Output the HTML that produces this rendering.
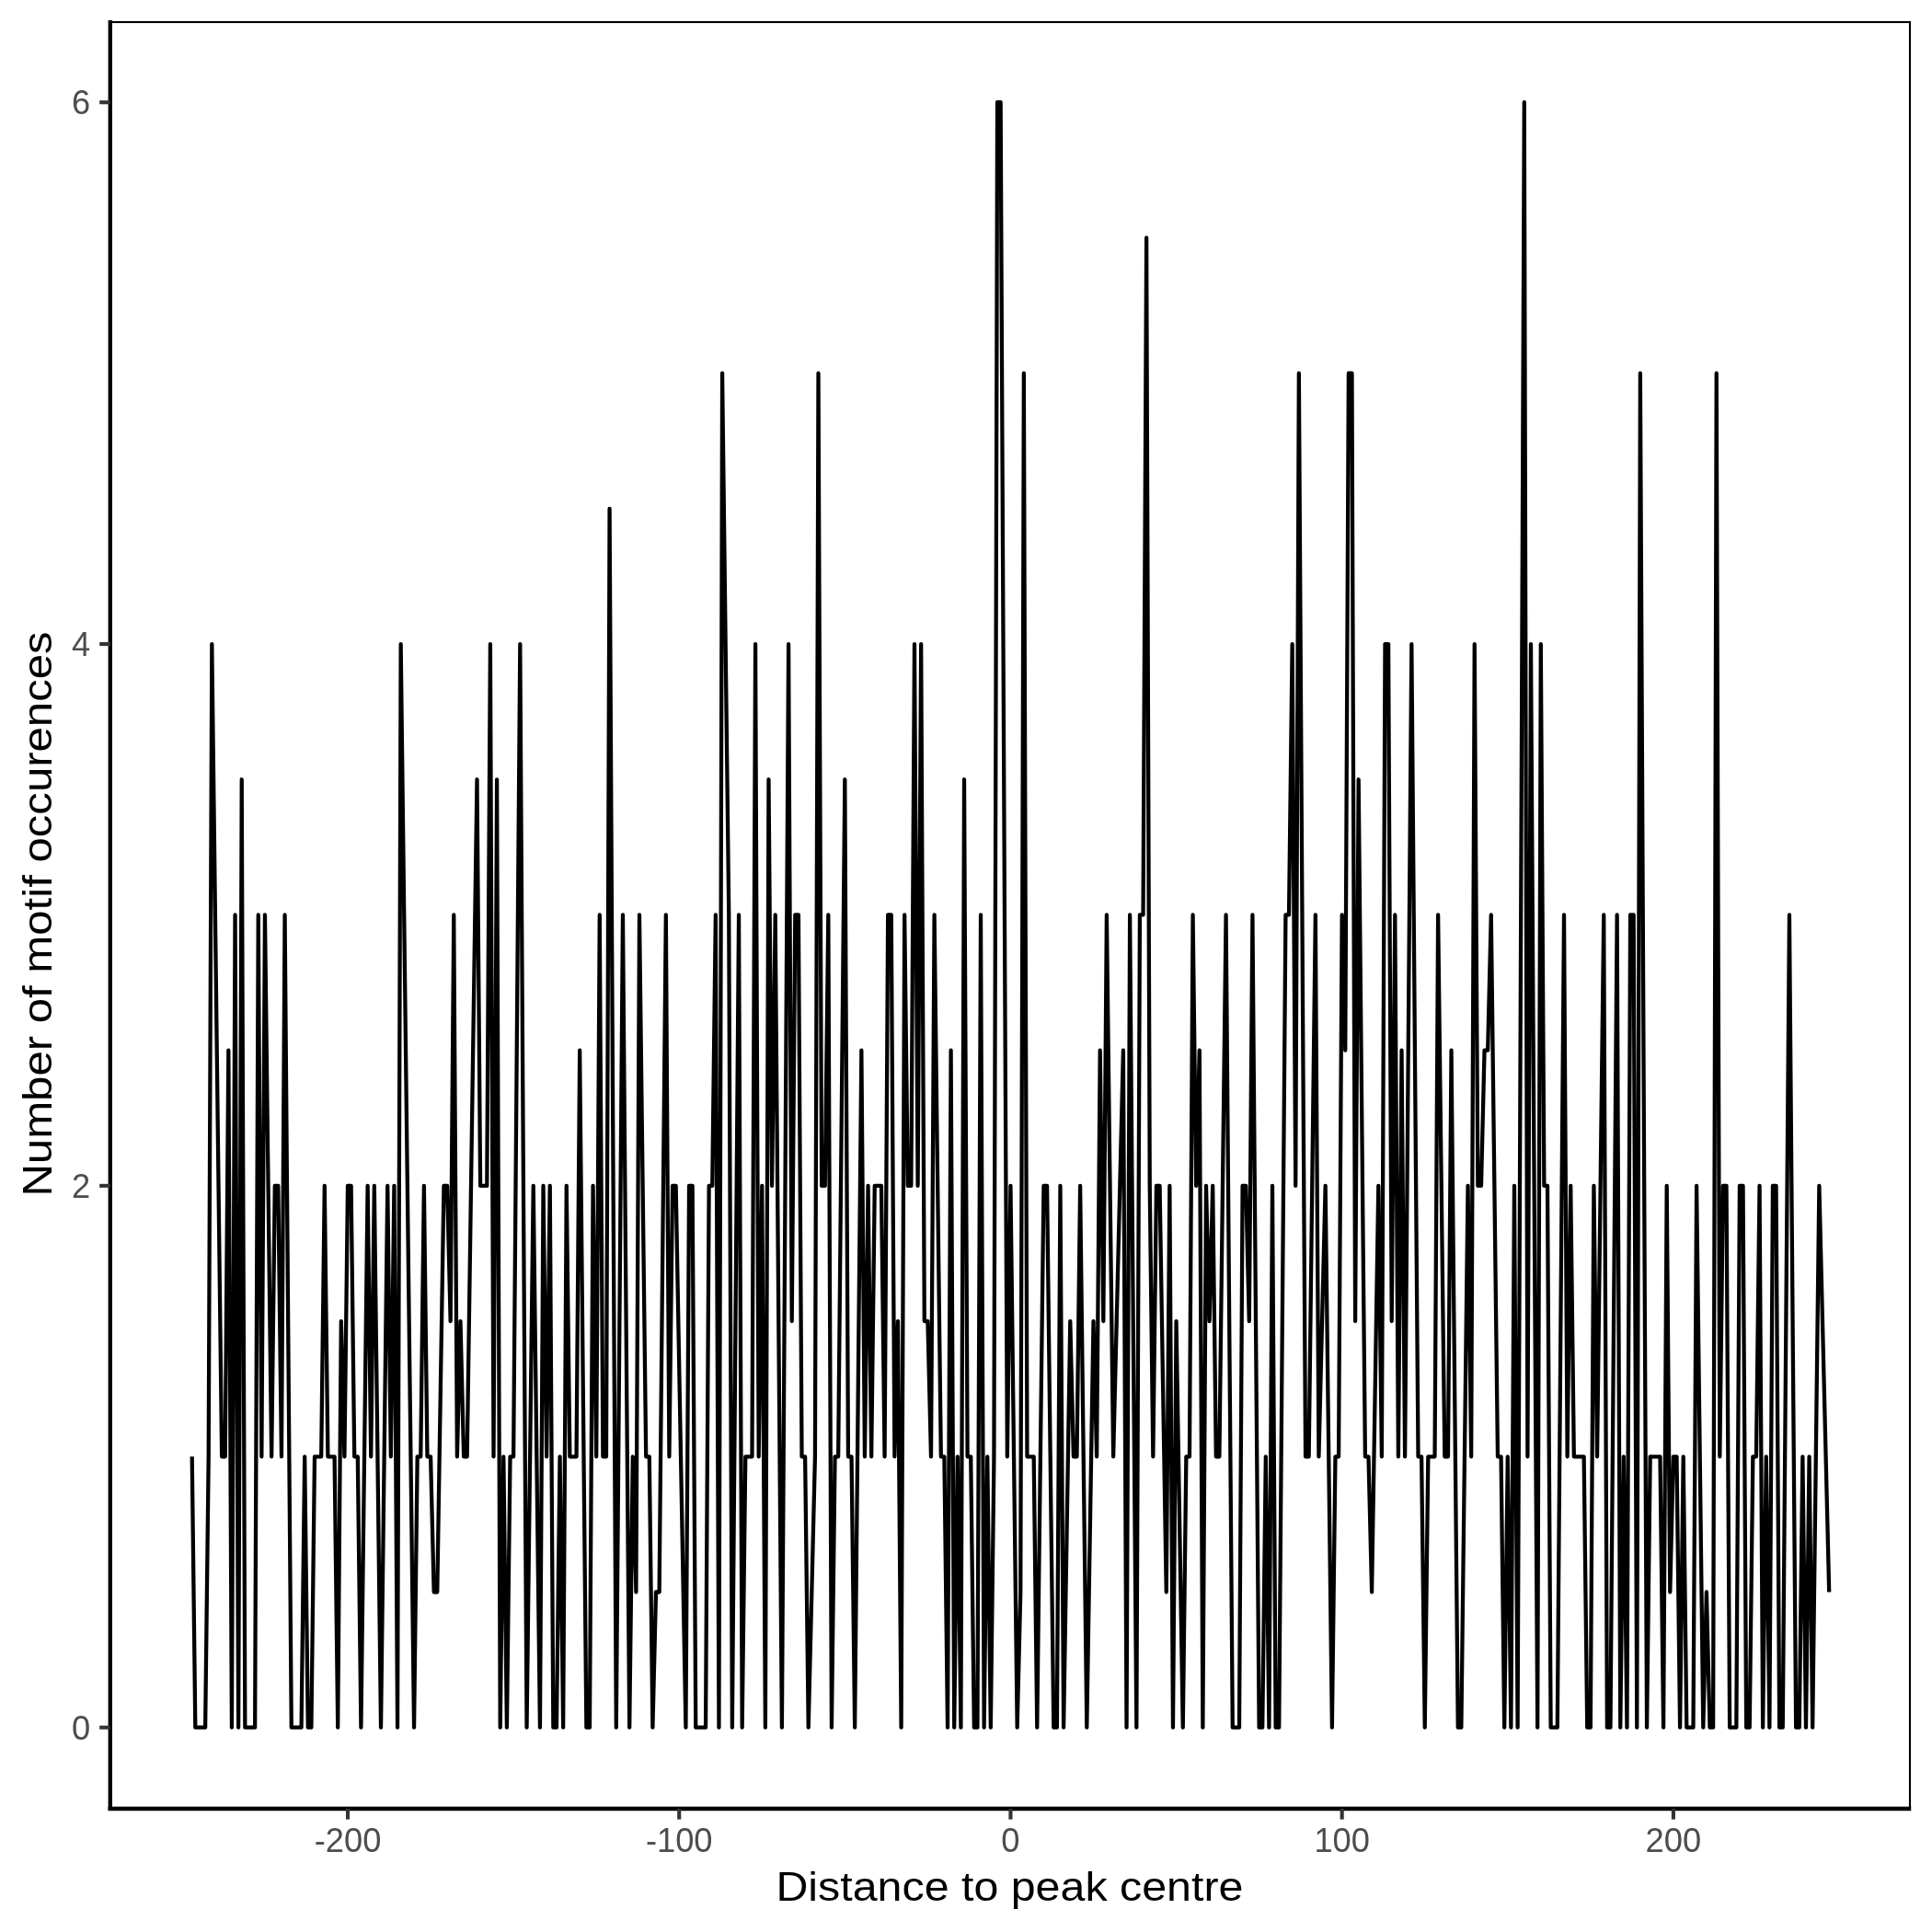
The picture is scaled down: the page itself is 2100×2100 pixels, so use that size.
<!DOCTYPE html>
<html><head><meta charset="utf-8"><style>
html,body{margin:0;padding:0;background:#fff;}
svg{display:block;}
text{-webkit-font-smoothing:antialiased;}
.t{filter:grayscale(1);}
text{font-family:"Liberation Sans",sans-serif;}
</style></head><body>
<svg class="t" width="2100" height="2100" viewBox="0 0 2100 2100">
<rect x="0" y="0" width="2100" height="2100" fill="#ffffff"/>
<rect x="120.8" y="24" width="1955.2" height="1941" fill="none" stroke="#000" stroke-width="2.13"/>
<polyline fill="none" stroke="#000" stroke-width="4.27" stroke-linejoin="round" stroke-linecap="butt" points="208.71,1583.29 212.31,1877.70 215.91,1877.70 219.51,1877.70 223.12,1877.70 226.72,1583.29 230.32,700.06 241.13,1583.29 244.73,1583.29 248.33,1141.67 251.93,1877.70 255.54,994.47 259.14,1877.70 262.74,847.26 266.34,1877.70 269.94,1877.70 273.55,1877.70 277.15,1877.70 280.75,994.47 284.35,1583.29 287.96,994.47 295.16,1583.29 298.76,1288.88 302.36,1288.88 305.97,1583.29 309.57,994.47 316.77,1877.70 320.37,1877.70 323.98,1877.70 327.58,1877.70 331.18,1583.29 334.78,1877.70 338.39,1877.70 341.99,1583.29 345.59,1583.29 349.19,1583.29 352.79,1288.88 356.40,1583.29 360.00,1583.29 363.60,1583.29 367.20,1877.70 370.81,1436.09 374.41,1583.29 378.01,1288.88 381.61,1288.88 385.21,1583.29 388.82,1583.29 392.42,1877.70 399.62,1288.88 403.23,1583.29 406.83,1288.88 414.03,1877.70 421.24,1288.88 424.84,1583.29 428.44,1288.88 432.04,1877.70 435.65,700.06 450.05,1877.70 453.66,1583.29 457.26,1583.29 460.86,1288.88 464.46,1583.29 468.07,1583.29 471.67,1730.50 475.27,1730.50 482.47,1288.88 486.08,1288.88 489.68,1436.09 493.28,994.47 496.88,1583.29 500.48,1436.09 504.09,1583.29 507.69,1583.29 518.50,847.26 522.10,1288.88 525.70,1288.88 529.30,1288.88 532.90,700.06 536.51,1583.29 540.11,847.26 543.71,1877.70 547.31,1583.29 550.92,1877.70 554.52,1583.29 558.12,1583.29 565.32,700.06 572.53,1877.70 579.73,1288.88 586.94,1877.70 590.54,1288.88 594.14,1583.29 597.74,1288.88 601.35,1877.70 604.95,1877.70 608.55,1583.29 612.15,1877.70 615.76,1288.88 619.36,1583.29 622.96,1583.29 626.56,1583.29 630.16,1141.67 637.37,1877.70 640.97,1877.70 644.57,1288.88 648.18,1583.29 651.78,994.47 655.38,1583.29 658.98,1583.29 662.58,552.86 669.79,1877.70 676.99,994.47 684.20,1877.70 687.80,1583.29 691.40,1730.50 695.00,994.47 702.21,1583.29 705.81,1583.29 709.41,1877.70 713.01,1730.50 716.62,1730.50 723.82,994.47 727.42,1583.29 731.03,1288.88 734.63,1288.88 745.43,1877.70 749.04,1288.88 752.64,1288.88 756.24,1877.70 759.84,1877.70 763.45,1877.70 767.05,1877.70 770.65,1288.88 774.25,1288.88 777.85,994.47 781.46,1877.70 785.06,405.65 792.26,994.47 795.87,1877.70 803.07,994.47 806.67,1877.70 810.27,1583.29 813.88,1583.29 817.48,1583.29 821.08,700.06 824.68,1583.29 828.29,1288.88 831.89,1877.70 835.49,847.26 839.09,1288.88 842.69,994.47 849.90,1877.70 857.10,700.06 860.70,1436.09 864.31,994.47 867.91,994.47 871.51,1583.29 875.11,1583.29 878.72,1877.70 882.32,1730.50 885.92,1583.29 889.52,405.65 893.12,1288.88 896.73,1288.88 900.33,994.47 903.93,1877.70 907.53,1583.29 911.14,1583.29 918.34,847.26 921.94,1583.29 925.54,1583.29 929.15,1877.70 936.35,1141.67 939.95,1583.29 943.56,1288.88 947.16,1583.29 950.76,1288.88 954.36,1288.88 957.96,1288.88 961.57,1583.29 965.17,994.47 968.77,994.47 972.37,1583.29 975.98,1436.09 979.58,1877.70 983.18,994.47 986.78,1288.88 990.38,1288.88 993.99,700.06 997.59,1288.88 1001.19,700.06 1004.79,1436.09 1008.40,1436.09 1012.00,1583.29 1015.60,994.47 1022.80,1583.29 1026.41,1583.29 1030.01,1877.70 1033.61,1141.67 1037.21,1877.70 1040.81,1583.29 1044.42,1877.70 1048.02,847.26 1051.62,1583.29 1055.22,1583.29 1058.83,1877.70 1062.43,1877.70 1066.03,994.47 1069.63,1877.70 1073.23,1583.29 1076.84,1877.70 1080.44,1583.29 1084.04,111.24 1087.64,111.24 1094.85,1583.29 1098.45,1288.88 1105.65,1877.70 1109.26,1730.50 1112.86,405.65 1116.46,1583.29 1120.06,1583.29 1123.67,1583.29 1127.27,1877.70 1134.47,1288.88 1138.07,1288.88 1145.28,1877.70 1148.88,1877.70 1152.48,1288.88 1156.09,1877.70 1163.29,1436.09 1166.89,1583.29 1170.49,1583.29 1174.10,1288.88 1181.30,1877.70 1188.51,1436.09 1192.11,1583.29 1195.71,1141.67 1199.31,1436.09 1202.91,994.47 1210.12,1583.29 1220.92,1141.67 1224.53,1877.70 1228.13,994.47 1235.33,1877.70 1238.94,994.47 1242.54,994.47 1246.14,258.44 1249.74,1288.88 1253.34,1583.29 1256.95,1288.88 1260.55,1288.88 1267.75,1730.50 1271.36,1288.88 1274.96,1877.70 1278.56,1436.09 1285.76,1877.70 1289.37,1583.29 1292.97,1583.29 1296.57,994.47 1300.17,1288.88 1303.78,1141.67 1307.38,1877.70 1310.98,1288.88 1314.58,1436.09 1318.18,1288.88 1321.79,1583.29 1325.39,1583.29 1332.59,994.47 1339.80,1877.70 1343.40,1877.70 1347.00,1877.70 1350.60,1288.88 1354.21,1288.88 1357.81,1436.09 1361.41,994.47 1368.62,1877.70 1372.22,1877.70 1375.82,1583.29 1379.42,1877.70 1383.02,1288.88 1386.63,1877.70 1390.23,1877.70 1397.43,994.47 1401.03,994.47 1404.64,700.06 1408.24,1288.88 1411.84,405.65 1419.05,1583.29 1422.65,1583.29 1429.85,994.47 1433.45,1583.29 1440.66,1288.88 1447.86,1877.70 1451.47,1583.29 1455.07,1583.29 1458.67,994.47 1462.27,1141.67 1465.87,405.65 1469.48,405.65 1473.08,1436.09 1476.68,847.26 1483.89,1583.29 1487.49,1583.29 1491.09,1730.50 1498.29,1288.88 1501.90,1583.29 1505.50,700.06 1509.10,700.06 1512.70,1436.09 1516.31,994.47 1519.91,1583.29 1523.51,1141.67 1527.11,1583.29 1534.32,700.06 1541.52,1583.29 1545.12,1583.29 1548.72,1877.70 1552.33,1583.29 1555.93,1583.29 1559.53,1583.29 1563.13,994.47 1570.34,1583.29 1573.94,1583.29 1577.54,1141.67 1584.75,1877.70 1588.35,1877.70 1595.55,1288.88 1599.16,1583.29 1602.76,700.06 1606.36,1288.88 1609.96,1288.88 1613.56,1141.67 1617.17,1141.67 1620.77,994.47 1627.97,1583.29 1631.58,1583.29 1635.18,1877.70 1638.78,1583.29 1642.38,1877.70 1645.98,1288.88 1649.59,1877.70 1656.79,111.24 1660.39,1583.29 1664.00,700.06 1671.20,1877.70 1674.80,700.06 1678.40,1288.88 1682.01,1288.88 1685.61,1877.70 1689.21,1877.70 1692.81,1877.70 1700.02,994.47 1703.62,1583.29 1707.22,1288.88 1710.82,1583.29 1714.43,1583.29 1718.03,1583.29 1721.63,1583.29 1725.23,1877.70 1728.84,1877.70 1732.44,1288.88 1736.04,1583.29 1743.24,994.47 1746.85,1877.70 1750.45,1877.70 1757.65,994.47 1761.25,1877.70 1764.86,1583.29 1768.46,1877.70 1772.06,994.47 1775.66,994.47 1779.27,1877.70 1782.87,405.65 1790.07,1877.70 1793.67,1583.29 1797.28,1583.29 1800.88,1583.29 1804.48,1583.29 1808.08,1877.70 1811.69,1288.88 1815.29,1730.50 1818.89,1583.29 1822.49,1583.29 1826.09,1877.70 1829.70,1583.29 1833.30,1877.70 1836.90,1877.70 1840.50,1877.70 1844.11,1288.88 1851.31,1877.70 1854.91,1730.50 1858.51,1877.70 1862.12,1877.70 1865.72,405.65 1869.32,1583.29 1872.92,1288.88 1876.53,1288.88 1880.13,1877.70 1883.73,1877.70 1887.33,1877.70 1890.93,1288.88 1894.54,1288.88 1898.14,1877.70 1901.74,1877.70 1905.34,1583.29 1908.95,1583.29 1912.55,1288.88 1916.15,1877.70 1919.75,1583.29 1923.35,1877.70 1926.96,1288.88 1930.56,1288.88 1934.16,1877.70 1937.76,1877.70 1944.97,994.47 1952.17,1877.70 1955.77,1877.70 1959.38,1583.29 1962.98,1877.70 1966.58,1583.29 1970.18,1877.70 1977.39,1288.88 1988.19,1730.50"/>
<line x1="119.75" y1="22" x2="119.75" y2="1968" stroke="#000" stroke-width="4.27" stroke-linecap="butt"/>
<line x1="117.6" y1="1966" x2="2077.2" y2="1966" stroke="#000" stroke-width="4.27" stroke-linecap="butt"/>
<line x1="108.2" y1="1877.70" x2="119.75" y2="1877.70" stroke="#333333" stroke-width="4.1"/>
<text x="98.3" y="1890.60" font-size="36.3" fill="#4D4D4D" text-anchor="end">0</text>
<line x1="108.2" y1="1288.88" x2="119.75" y2="1288.88" stroke="#333333" stroke-width="4.1"/>
<text x="98.3" y="1301.78" font-size="36.3" fill="#4D4D4D" text-anchor="end">2</text>
<line x1="108.2" y1="700.06" x2="119.75" y2="700.06" stroke="#333333" stroke-width="4.1"/>
<text x="98.3" y="712.96" font-size="36.3" fill="#4D4D4D" text-anchor="end">4</text>
<line x1="108.2" y1="111.24" x2="119.75" y2="111.24" stroke="#333333" stroke-width="4.1"/>
<text x="98.3" y="124.14" font-size="36.3" fill="#4D4D4D" text-anchor="end">6</text>
<line x1="378.01" y1="1966" x2="378.01" y2="1977.6" stroke="#333333" stroke-width="4.1"/>
<text x="378.01" y="2013.2" font-size="36.3" fill="#4D4D4D" text-anchor="middle">-200</text>
<line x1="738.23" y1="1966" x2="738.23" y2="1977.6" stroke="#333333" stroke-width="4.1"/>
<text x="738.23" y="2013.2" font-size="36.3" fill="#4D4D4D" text-anchor="middle">-100</text>
<line x1="1098.45" y1="1966" x2="1098.45" y2="1977.6" stroke="#333333" stroke-width="4.1"/>
<text x="1098.45" y="2013.2" font-size="36.3" fill="#4D4D4D" text-anchor="middle">0</text>
<line x1="1458.67" y1="1966" x2="1458.67" y2="1977.6" stroke="#333333" stroke-width="4.1"/>
<text x="1458.67" y="2013.2" font-size="36.3" fill="#4D4D4D" text-anchor="middle">100</text>
<line x1="1818.89" y1="1966" x2="1818.89" y2="1977.6" stroke="#333333" stroke-width="4.1"/>
<text x="1818.89" y="2013.2" font-size="36.3" fill="#4D4D4D" text-anchor="middle">200</text>
<text transform="translate(1097.4,2065.7) scale(1.0993,1)" x="0" y="0" font-size="44" fill="#000" text-anchor="middle">Distance to peak centre</text>
<text transform="translate(55.5,993.5) rotate(-90) scale(1.1167,1)" x="0" y="0" font-size="44" fill="#000" text-anchor="middle">Number of motif occurences</text>
</svg>
</body></html>
